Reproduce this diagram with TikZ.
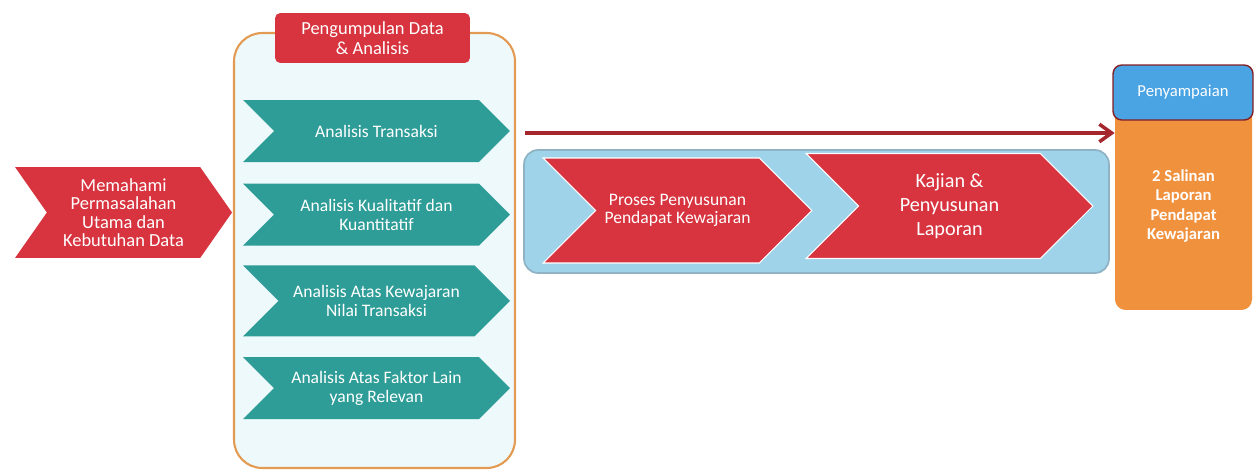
\documentclass[tikz,border=0pt]{standalone}
\usepackage{fontspec}
\setmainfont{Carlito}
\usetikzlibrary{shapes.symbols,positioning,arrows.meta}

\definecolor{merah}{HTML}{D7343F}
\definecolor{tosca}{HTML}{2E9C97}
\definecolor{wadahisi}{HTML}{EEF9FB}
\definecolor{wadahtepi}{HTML}{E39A52}
\definecolor{biru}{HTML}{9FD3EA}
\definecolor{birutepi}{HTML}{8FB3C4}
\definecolor{birutua}{HTML}{4AA3E2}
\definecolor{jingga}{HTML}{F0913E}
\definecolor{marun}{HTML}{A5262C}

\begin{document}
\begin{tikzpicture}[x=0.02cm, y=-0.02cm,
  every node/.style={text=white, align=center},
  panah/.style={shape=signal, signal to=east, signal from=west,
                signal pointer angle=90, inner sep=0pt},
  merahpanah/.style={panah, fill=merah},
  toscapanah/.style={panah, fill=tosca, minimum width=5.34cm,
                     minimum height=1.24cm, font=\fontsize{10}{10.8}\selectfont},
  kotak/.style={rectangle, rounded corners=3pt, inner sep=0pt},
  ar/.style={-{Straight Barb[length=7pt, width=10pt]}, line width=2pt, draw=marun}
]
  \useasboundingbox (0,0) rectangle (1260,474);

  % masalah awal
  \node[merahpanah, signal pointer angle=110, minimum width=4.34cm,
        minimum height=1.82cm, font=\fontsize{10.5}{10.5}\selectfont]
    (masalah) at (123.5,212.5)
    {Memahami\\Permasalahan\\Utama dan\\Kebutuhan Data};

  % wadah pengumpulan data
  \node[kotak, rounded corners=16pt, draw=wadahtepi, line width=1.2pt, fill=wadahisi,
        minimum width=5.62cm, minimum height=8.7cm] (wadah) at (374.5,250.5) {};
  \node[kotak, fill=merah, minimum width=3.9cm, minimum height=1cm,
        font=\fontsize{10.5}{11.3}\selectfont] (judul) at (372.5,38)
    {Pengumpulan Data\\\& Analisis};

  \node[toscapanah] (t1) at (376.5,131) {Analisis Transaksi};
  \node[toscapanah, below=0.42cm of t1] (t2) {Analisis Kualitatif dan\\Kuantitatif};
  \node[toscapanah, below=0.38cm of t2, minimum height=1.42cm] (t3)
    {Analisis Atas Kewajaran\\Nilai Transaksi};
  \node[toscapanah, below=0.4cm of t3] (t4) {Analisis Atas Faktor Lain\\yang Relevan};

  % proses penyusunan
  \node[kotak, rounded corners=8pt, draw=birutepi, line width=1pt, fill=biru,
        minimum width=11.7cm, minimum height=2.46cm] (proses) at (816.5,211.5) {};
  \node[merahpanah, draw=white, line width=0.6pt, minimum width=5.38cm,
        minimum height=2.1cm, font=\fontsize{10}{10}\selectfont]
    (r1) at (677.5,210.5) {Proses Penyusunan\\Pendapat Kewajaran};
  \node[merahpanah, draw=white, line width=0.6pt, minimum width=5.74cm,
        minimum height=2.1cm, font=\fontsize{11.5}{13.5}\selectfont]
    (r2) at (949.5,206) {Kajian \&\\Penyusunan\\Laporan};

  % penyampaian
  \node[kotak, rounded corners=6pt, fill=jingga, minimum width=2.74cm,
        minimum height=4.9cm] (hasil) at (1183.5,187.5) {};
  \node[kotak, rounded corners=5pt, fill=birutua, draw=marun!80!black, line width=0.8pt,
        minimum width=2.8cm, minimum height=1.1cm, font=\fontsize{9.5}{10}\selectfont]
    (sampai) at (1183,92.5) {Penyampaian};
  \node[font=\bfseries\fontsize{9.5}{11}\selectfont] (salinan) at (1183.5,206)
    {2 Salinan\\Laporan\\Pendapat\\Kewajaran};

  \coordinate (mulai) at (525,133);
  \draw[ar] (mulai) -- (mulai -| hasil.west);
\end{tikzpicture}
\end{document}
